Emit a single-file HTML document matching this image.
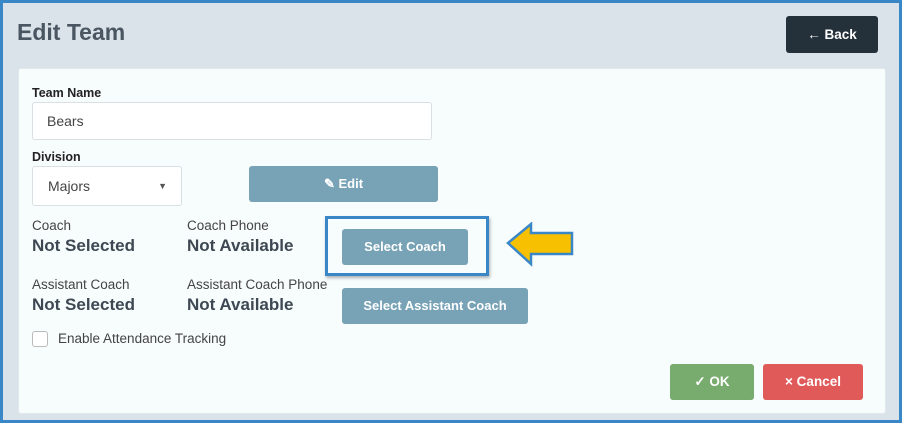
<!DOCTYPE html>
<html><head><style>
*{box-sizing:border-box;margin:0;padding:0}
body{width:902px;height:423px;overflow:hidden;font-family:"Liberation Sans",sans-serif;}
.frame{position:absolute;left:0;top:0;width:902px;height:423px;background:#dae3ea;border:3px solid #3a87c8;}
.a{position:absolute}
.card{left:18px;top:68px;width:868px;height:346px;background:#f7fcfd;border:1px solid #e2e8ec;border-radius:3px}
.lbl{font-size:12.5px;color:#222;font-weight:bold}
.sm{font-size:13.5px;color:#444}
.big{font-size:17px;color:#3d4852;font-weight:bold}
.inp{background:#fff;border:1px solid #d9dfe3;border-radius:3px;font-size:14px;color:#444}
.btn{background:#78a2b5;color:#fff;border-radius:3px;font-size:13px;font-weight:bold;text-align:center}
</style></head><body>
<div class="frame"></div>
<div class="a" style="left:17px;top:19px;font-size:23px;color:#4a5661;font-weight:bold">Edit Team</div>
<div class="a" style="left:786px;top:16px;width:92px;height:37px;background:#24303a;border-radius:3px;color:#fff;font-weight:bold;font-size:13.5px;line-height:37px;text-align:center">← Back</div>
<div class="a card"></div>
<div class="a lbl" style="left:32px;top:86px">Team Name</div>
<div class="a inp" style="left:32px;top:102px;width:400px;height:38px;line-height:36px;padding-left:14px">Bears</div>
<div class="a lbl" style="left:32px;top:150px">Division</div>
<div class="a inp" style="left:32px;top:166px;width:150px;height:40px;line-height:38px;padding-left:15px">Majors<span style="position:absolute;right:14px;top:0;font-size:9px;color:#555">▼</span></div>
<div class="a btn" style="left:249px;top:166px;width:189px;height:36px;line-height:36px">✎ Edit</div>
<div class="a sm" style="left:32px;top:218px">Coach</div>
<div class="a big" style="left:32px;top:236px">Not Selected</div>
<div class="a sm" style="left:187px;top:218px">Coach Phone</div>
<div class="a big" style="left:187px;top:236px">Not Available</div>
<div class="a" style="left:325px;top:216px;width:164px;height:60px;border:3px solid #3a87c8;box-shadow:1px 2px 3px rgba(0,0,0,.3)"></div>
<div class="a btn" style="left:342px;top:229px;width:126px;height:36px;line-height:36px">Select Coach</div>
<svg class="a" style="left:505px;top:222px" width="70" height="46"><polygon points="3,21 26,2 26,11 67,11 67,32 26,32 26,42" fill="#f7c000" stroke="#3a87c8" stroke-width="2.5"/></svg>
<div class="a sm" style="left:32px;top:277px">Assistant Coach</div>
<div class="a big" style="left:32px;top:295px">Not Selected</div>
<div class="a sm" style="left:187px;top:277px">Assistant Coach Phone</div>
<div class="a big" style="left:187px;top:295px">Not Available</div>
<div class="a btn" style="left:342px;top:288px;width:186px;height:36px;line-height:36px">Select Assistant Coach</div>
<div class="a" style="left:32px;top:331px;width:16px;height:16px;border:1px solid #bbb;border-radius:3px;background:#fff"></div>
<div class="a sm" style="left:58px;top:331px">Enable Attendance Tracking</div>
<div class="a" style="left:670px;top:364px;width:84px;height:36px;background:#77ac6e;border-radius:3px;color:#fff;font-weight:bold;font-size:13.5px;line-height:36px;text-align:center">✓ OK</div>
<div class="a" style="left:763px;top:364px;width:100px;height:36px;background:#e05a5a;border-radius:3px;color:#fff;font-weight:bold;font-size:13.5px;line-height:36px;text-align:center">× Cancel</div>
</body></html>
